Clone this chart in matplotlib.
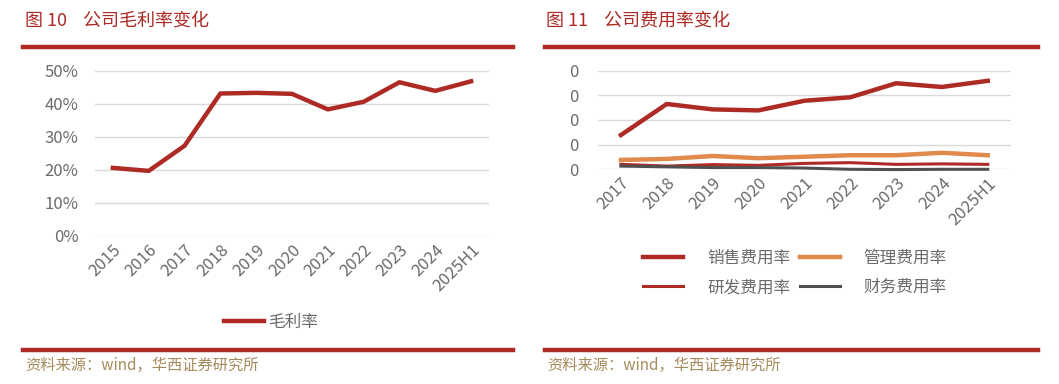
import matplotlib
matplotlib.use("Agg")
import matplotlib.pyplot as plt
from matplotlib.lines import Line2D

plt.rcParams['font.family'] = ['Noto Sans CJK SC', 'DejaVu Sans']

# ---- data ----
years_left = ["2015", "2016", "2017", "2018", "2019", "2020", "2021", "2022", "2023", "2024", "2025H1"]
gross_margin = [20.6, 19.7, 27.3, 43.1, 43.3, 43.0, 38.3, 40.6, 46.5, 43.9, 46.8]

years_right = ["2017", "2018", "2019", "2020", "2021", "2022", "2023", "2024", "2025H1"]
sales_rate = [13.9, 26.5, 24.3, 23.9, 27.8, 29.2, 34.9, 33.4, 35.9]
admin_rate = [3.8, 4.2, 5.4, 4.5, 5.1, 5.7, 5.7, 6.7, 5.7]
rd_rate = [2.0, 1.3, 1.9, 1.6, 2.4, 2.7, 2.0, 2.2, 2.0]
fin_rate = [1.3, 1.0, 0.7, 0.7, 0.5, 0.0, -0.1, 0.0, 0.0]

left_yticks = [0, 10, 20, 30, 40, 50]
left_ylabels = ["0%", "10%", "20%", "30%", "40%", "50%"]
right_yticks = [0, 10, 20, 30, 40]
right_ylabels = ["0", "0", "0", "0", "0"]

left_title = "图 10    公司毛利率变化"
right_title = "图 11    公司费用率变化"
source = "资料来源：wind，华西证券研究所"

# ---- style ----
W, H = 1059, 384
RED = "#ad2a25"
ORANGE = "#e08a4c"
DARK = "#505050"
GRID = "#d9d9d9"
TICK = "#6b6b6b"
SRC = "#a58a5c"

fig = plt.figure(figsize=(W / 100, H / 100), dpi=100)


def box(x0, y0, x1, y1):
    return [x0 / W, 1 - y1 / H, (x1 - x0) / W, (y1 - y0) / H]


def hline(x0, x1, y, lw=3.2):
    fig.add_artist(Line2D([x0 / W, x1 / W], [1 - y / H, 1 - y / H],
                          color=RED, lw=lw, transform=fig.transFigure))


def style_ax(ax):
    for s in ax.spines.values():
        s.set_visible(False)
    ax.tick_params(length=0, colors=TICK, labelsize=12)
    ax.yaxis.grid(True, color=GRID, lw=1)
    ax.set_axisbelow(True)
    for lab in ax.get_xticklabels():
        lab.set_rotation(45)
        lab.set_ha("right")
        lab.set_rotation_mode("anchor")


# titles and rules
fig.text(25 / W, 1 - 21 / H, left_title, color=RED, fontsize=13, va="center", ha="left")
fig.text(546 / W, 1 - 21 / H, right_title, color=RED, fontsize=13, va="center", ha="left")
hline(23, 513, 47)
hline(545, 1038, 47)
hline(23, 513, 350)
hline(545, 1038, 350)
fig.text(25 / W, 1 - 365 / H, source, color=SRC, fontsize=11, va="center", ha="left")
fig.text(547 / W, 1 - 365 / H, source, color=SRC, fontsize=11, va="center", ha="left")

# left chart
ax1 = fig.add_axes(box(95, 70.7, 489, 236))
x1 = list(range(len(years_left)))
ax1.plot(x1, gross_margin, color=RED, lw=3.2, label="毛利率", clip_on=False)
ax1.set_xlim(-0.5, len(years_left) - 0.5)
ax1.set_ylim(0, 50)
ax1.set_yticks(left_yticks)
ax1.set_yticklabels(left_ylabels)
ax1.set_xticks(x1)
ax1.set_xticklabels(years_left)
ax1.tick_params(axis="y", pad=12)
ax1.tick_params(axis="x", pad=4)
style_ax(ax1)
ax1.legend(loc="center", bbox_to_anchor=(271 / W, 1 - 322 / H), bbox_transform=fig.transFigure,
           frameon=False, fontsize=12, handlelength=2.4, handletextpad=0.2,
           labelcolor=TICK)

# right chart
ax2 = fig.add_axes(box(598, 70.7, 1010.7, 169.3))
x2 = list(range(len(years_right)))
l_sales, = ax2.plot(x2, sales_rate, color=RED, lw=3.2, label="销售费用率", clip_on=False)
l_admin, = ax2.plot(x2, admin_rate, color=ORANGE, lw=3.2, label="管理费用率", clip_on=False)
l_rd, = ax2.plot(x2, rd_rate, color=RED, lw=2.2, label="研发费用率", clip_on=False)
l_fin, = ax2.plot(x2, fin_rate, color=DARK, lw=2.2, label="财务费用率", clip_on=False)
ax2.set_xlim(-0.5, len(years_right) - 0.5)
ax2.set_ylim(0, 40)
ax2.set_yticks(right_yticks)
ax2.set_yticklabels(right_ylabels)
ax2.set_xticks(x2)
ax2.set_xticklabels(years_right)
ax2.tick_params(axis="y", pad=14)
ax2.tick_params(axis="x", pad=4)
style_ax(ax2)
handles = [l_sales, l_rd, l_admin, l_fin]
ax2.legend(handles, [h.get_label() for h in handles],
           loc="center", bbox_to_anchor=(795 / W, 1 - 273 / H), bbox_transform=fig.transFigure,
           ncol=2, frameon=False, fontsize=12, handlelength=2.4, handletextpad=1.44,
           columnspacing=0.55, labelspacing=0.75, labelcolor=TICK)

fig.savefig("out.png", dpi=100)
